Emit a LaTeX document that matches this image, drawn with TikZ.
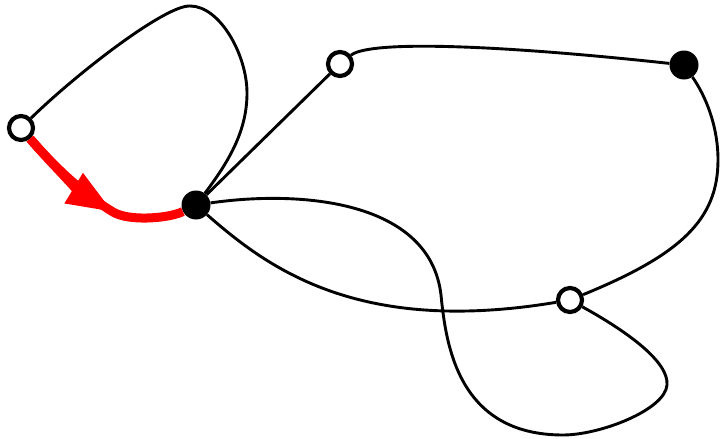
\documentclass[tikz,border=0pt]{standalone}
\usetikzlibrary{arrows.meta}
\tikzset{
  opennode/.style={circle,draw=black,fill=white,line width=4.2pt,minimum size=24pt,inner sep=0pt},
  fillnode/.style={circle,fill=black,minimum size=29pt,inner sep=0pt},
  link/.style={line width=2.9pt,draw=black},
  redlink/.style={line width=9pt,draw=red},
}
\begin{document}
\begin{tikzpicture}[x=1pt,y=-1pt]
\useasboundingbox (0,0) rectangle (721,439);
\node[opennode] (A) at (21,128) {};
\node[fillnode] (B) at (196,205) {};
\node[opennode] (C) at (340,64) {};
\node[fillnode] (D) at (684,65) {};
\node[opennode] (E) at (570,300) {};
\coordinate (m) at (113,212);
% loop A-B
\draw[link] (A) .. controls (75,75) and (165,5) .. (190,6)
  .. controls (220,6) and (247,55) .. (247,93)
  .. controls (247,130) and (230,160) .. (B);
% B-C
\draw[link] (B) -- (C);
% C-D
\draw[link] (C) .. controls (370,40) and (500,45) .. (D);
% D-E
\draw[link] (D) .. controls (705,95) and (718,125) .. (718,160)
  .. controls (718,220) and (680,255) .. (E);
% B-E lower
\draw[link] (B) .. controls (270,270) and (360,335) .. (E);
% B-E S-curve
\draw[link] (B) .. controls (300,190) and (430,200) .. (441,295)
  .. controls (446,345) and (458,435) .. (563,435)
  .. controls (600,435) and (665,410) .. (667,385)
  .. controls (669,362) and (628,332) .. (E);
% red A-B
\draw[redlink] (A) .. controls (50,162) and (80,192) .. (m)
  .. controls (130,222) and (170,218) .. (B);
\draw[redlink,-{Triangle[length=46pt,width=33pt]}] (A) .. controls (50,162) and (80,192) .. (m);
\end{tikzpicture}
\end{document}
